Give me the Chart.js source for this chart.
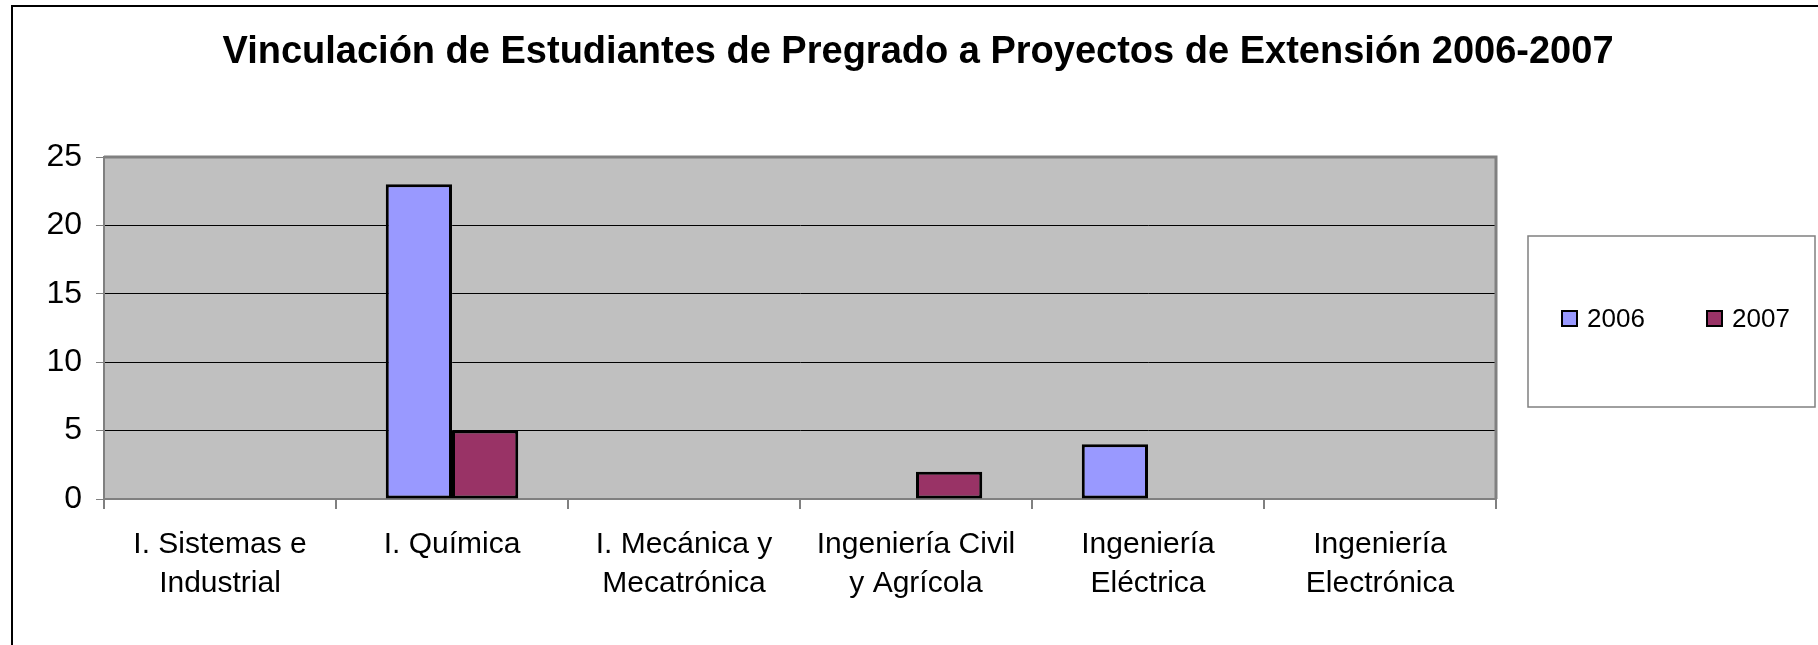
<!DOCTYPE html>
<html>
<head>
<meta charset="utf-8">
<script src="https://cdn.jsdelivr.net/npm/chart.js@4"></script>
<style>
html,body{margin:0;padding:0;background:#fff}
#wrap{width:1818px;height:645px}
</style>
</head>
<body>
<div id="wrap"><canvas id="chart" width="1818" height="645"></canvas></div>
<script>
const chartTitle='Vinculación de Estudiantes de Pregrado a Proyectos de Extensión 2006-2007';
const categories=[['I. Sistemas e','Industrial'],'I. Química',['I. Mecánica y','Mecatrónica'],['Ingeniería Civil','y Agrícola'],['Ingeniería','Eléctrica'],['Ingeniería','Electrónica']];
const seriesNames=['2006','2007'];
const values2006=[0,23,0,0,4,0];
const values2007=[0,5,0,2,0,0];
const colors=['#9999FF','#993366'];
const FONT='"Liberation Sans", Arial, sans-serif';

// plot background, plot border, outer frame, title and boxed legend
const decor={
    id:'decor',
    beforeDraw(c){
        const a=c.chartArea,ctx=c.ctx;
        ctx.save();
        ctx.fillStyle='#fff';ctx.fillRect(0,0,c.width,c.height);
        ctx.fillStyle='#c0c0c0';ctx.fillRect(a.left,a.top,a.right-a.left,a.bottom-a.top);
        ctx.strokeStyle='#000';ctx.lineWidth=2;ctx.strokeRect(12,6,1900,800);
        ctx.fillStyle='#000';ctx.font='bold 38px '+FONT;ctx.textAlign='center';ctx.textBaseline='middle';
        ctx.fillText(chartTitle,918,53);
        ctx.restore();
    },
    beforeDatasetsDraw(c){
        const a=c.chartArea,ctx=c.ctx;
        ctx.save();
        ctx.strokeStyle='#808080';ctx.lineWidth=3;
        ctx.beginPath();ctx.moveTo(a.left,a.top);ctx.lineTo(a.right,a.top);ctx.lineTo(a.right,a.bottom);ctx.stroke();
        ctx.restore();
    },
    afterDraw(c){
        const ctx=c.ctx;
        ctx.save();
        ctx.strokeStyle='#808080';ctx.lineWidth=1.5;ctx.strokeRect(1528,236,287,171);
        ctx.font='26px '+FONT;ctx.textBaseline='middle';ctx.textAlign='left';
        const xs=[1562,1707];
        c.data.datasets.forEach((d,i)=>{
            ctx.fillStyle=d.backgroundColor;ctx.fillRect(xs[i],311,15,15);
            ctx.strokeStyle='#000';ctx.lineWidth=2;ctx.strokeRect(xs[i],311,15,15);
            ctx.fillStyle='#000';ctx.fillText(d.label,xs[i]+25,320);
        });
        ctx.restore();
    }
};

new Chart(document.getElementById('chart'),{
    type:'bar',
    data:{labels:categories,datasets:[
        {label:seriesNames[0],data:values2006,backgroundColor:colors[0],borderColor:'#000',borderWidth:3,borderSkipped:false},
        {label:seriesNames[1],data:values2007,backgroundColor:colors[1],borderColor:'#000',borderWidth:3,borderSkipped:false}]},
    options:{
        responsive:false,animation:false,
        layout:{padding:{left:0,right:322,top:157,bottom:0}},
        categoryPercentage:0.571,barPercentage:1,
        plugins:{legend:{display:false},tooltip:{enabled:false},title:{display:false}},
        scales:{
            x:{
                grid:{drawOnChartArea:false,tickLength:10,tickColor:'#808080',lineWidth:2},
                border:{color:'#808080',width:2},
                ticks:{color:'#000',padding:16,maxRotation:0,autoSkip:false,font:{family:FONT,size:30,lineHeight:1.3}},
                afterFit(s){s.height=146;}
            },
            y:{
                min:0,max:25,
                grid:{color:ctx=>(ctx.tick.value===0||ctx.tick.value===25)?'rgba(0,0,0,0)':'#000',lineWidth:1,tickLength:8,tickColor:'#808080'},
                border:{color:'#808080',width:2},
                ticks:{stepSize:5,color:'#000',padding:14,font:{family:FONT,size:32}},
                afterFit(s){s.width=104;}
            }
        }
    },
    plugins:[decor]
});
</script>
</body>
</html>
